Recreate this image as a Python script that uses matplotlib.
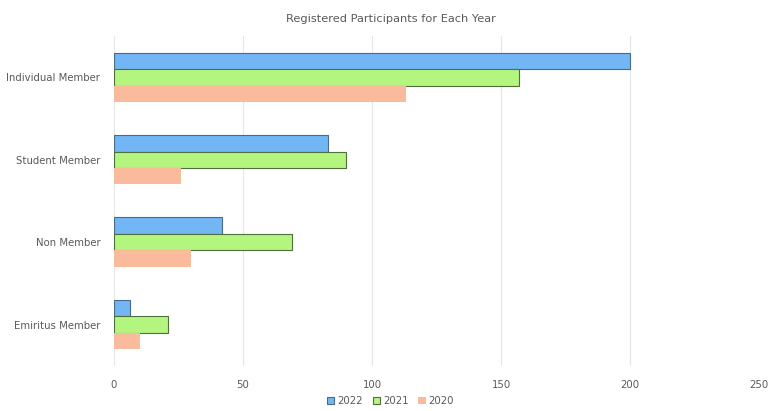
import numpy as np
import matplotlib.pyplot as plt

# Data
categories = ["Individual Member", "Student Member", "Non Member", "Emiritus Member"]
years = ["2022", "2021", "2020"]
values_2022 = [200, 83, 42, 6]
values_2021 = [157, 90, 69, 21]
values_2020 = [113, 26, 30, 10]

colors = ["#72b6f6", "#b4f57f", "#f9bb9c"]
edges = ["#4a6a88", "#4f6f3a", "none"]

fig = plt.figure(figsize=(7.81, 4.11), dpi=100)
ax = fig.add_axes([0.146, 0.11, 0.826, 0.802])

y = np.arange(len(categories))
h = 0.2
series = [values_2022, values_2021, values_2020]
for i, (vals, yr) in enumerate(zip(series, years)):
    ax.barh(y + (i - 1) * h, vals, height=h, color=colors[i],
            edgecolor=edges[i], linewidth=0.8, label=yr, zorder=3)

ax.set_ylim(len(categories) - 0.5, -0.5)
ax.set_xlim(0, 250)
ax.set_xticks([0, 50, 100, 150, 200, 250])
ax.set_yticks(y)
ax.set_yticklabels(categories)
ax.tick_params(axis="both", length=0, labelsize=7.3, labelcolor="#595959")
ax.tick_params(axis="x", pad=10)
ax.tick_params(axis="y", pad=10)
ax.grid(axis="x", color="#e6e6e6", linewidth=0.8, zorder=0)
for s in ax.spines.values():
    s.set_visible(False)

fig.suptitle("Registered Participants for Each Year", y=0.965, fontsize=8.2, color="#595959")
fig.legend(loc="lower center", bbox_to_anchor=(0.5, -0.01), ncol=3, frameon=False,
           fontsize=7.3, labelcolor="#595959", handlelength=0.7, handleheight=0.7,
           handletextpad=0.3, columnspacing=1.0)

fig.savefig("out.png", dpi=100)
